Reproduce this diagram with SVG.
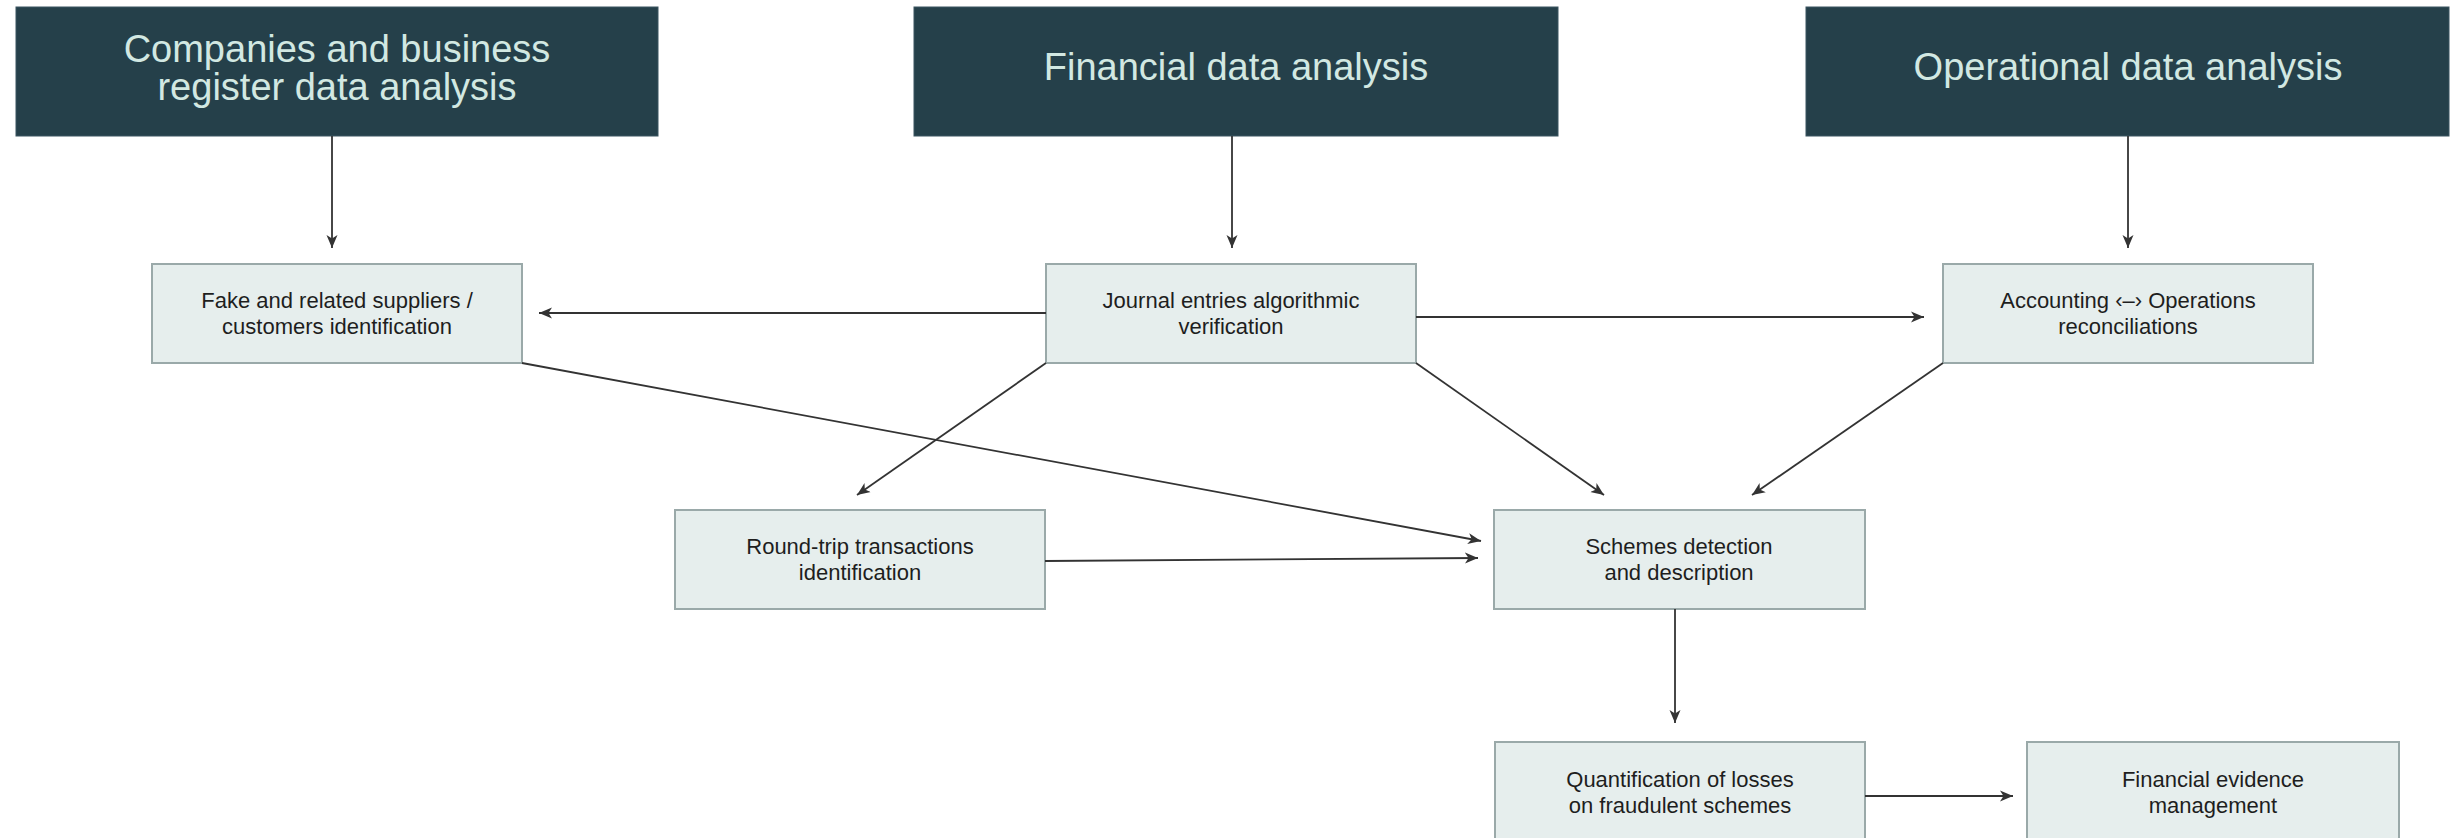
<svg xmlns="http://www.w3.org/2000/svg" width="2456" height="838" viewBox="0 0 2456 838">
<style>
.hdr{fill:#25404a;stroke:#3b5560;stroke-width:1}
.hdrt{font-family:"Liberation Sans",Arial,sans-serif;font-size:38px;fill:#d2e8e2;text-anchor:middle}
.box{fill:#e6eeed;stroke:#9aa9a9;stroke-width:2}
.bt{font-family:"Liberation Sans",Arial,sans-serif;font-size:22px;fill:#1e1e1e;text-anchor:middle}
.c{stroke:#333;stroke-width:1.8;fill:none;marker-end:url(#ah)}
</style>
<defs>
<marker id="ah" markerUnits="userSpaceOnUse" markerWidth="14" markerHeight="12" refX="13" refY="6" orient="auto">
<path d="M0,0.5 L13,6 L0,11.5 L3.5,6 z" fill="#333"/>
</marker>
</defs>
<rect width="2456" height="838" fill="#fff"/>
<g id="h1"><rect class="hdr" x="16" y="7" width="642" height="129"/><text class="hdrt" x="337" y="62">Companies and business</text><text class="hdrt" x="337" y="100">register data analysis</text></g>
<g id="h2"><rect class="hdr" x="914" y="7" width="644" height="129"/><text class="hdrt" x="1236" y="80">Financial data analysis</text></g>
<g id="h3"><rect class="hdr" x="1806" y="7" width="643" height="129"/><text class="hdrt" x="2128" y="80">Operational data analysis</text></g>
<g id="fake"><rect class="box" x="152" y="264" width="370" height="99"/><text class="bt" x="337" y="308">Fake and related suppliers /</text><text class="bt" x="337" y="334">customers identification</text></g>
<g id="journal"><rect class="box" x="1046" y="264" width="370" height="99"/><text class="bt" x="1231" y="308">Journal entries algorithmic</text><text class="bt" x="1231" y="334">verification</text></g>
<g id="acc"><rect class="box" x="1943" y="264" width="370" height="99"/><text class="bt" x="2128" y="308">Accounting ‹–› Operations</text><text class="bt" x="2128" y="334">reconciliations</text></g>
<g id="round"><rect class="box" x="675" y="510" width="370" height="99"/><text class="bt" x="860" y="554">Round-trip transactions</text><text class="bt" x="860" y="580">identification</text></g>
<g id="schemes"><rect class="box" x="1494" y="510" width="371" height="99"/><text class="bt" x="1679" y="554">Schemes detection</text><text class="bt" x="1679" y="580">and description</text></g>
<g id="quant"><rect class="box" x="1495" y="742" width="370" height="99"/><text class="bt" x="1680" y="787">Quantification of losses</text><text class="bt" x="1680" y="813">on fraudulent schemes</text></g>
<g id="evidence"><rect class="box" x="2027" y="742" width="372" height="99"/><text class="bt" x="2213" y="787">Financial evidence</text><text class="bt" x="2213" y="813">management</text></g>
<g id="connectors">
<line class="c" x1="332" y1="136" x2="332" y2="248"/>
<line class="c" x1="1232" y1="136" x2="1232" y2="248"/>
<line class="c" x1="2128" y1="136" x2="2128" y2="248"/>
<line class="c" x1="1046" y1="313" x2="539" y2="313"/>
<line class="c" x1="1416" y1="317" x2="1924" y2="317"/>
<line class="c" x1="1046" y1="363" x2="857" y2="495"/>
<line class="c" x1="1416" y1="363" x2="1604" y2="495"/>
<line class="c" x1="1943" y1="363" x2="1752" y2="495"/>
<line class="c" x1="522" y1="363" x2="1481" y2="541"/>
<line class="c" x1="1045" y1="561" x2="1478" y2="558"/>
<line class="c" x1="1675" y1="609" x2="1675" y2="723"/>
<line class="c" x1="1865" y1="796" x2="2013" y2="796"/>
</g>
</svg>
